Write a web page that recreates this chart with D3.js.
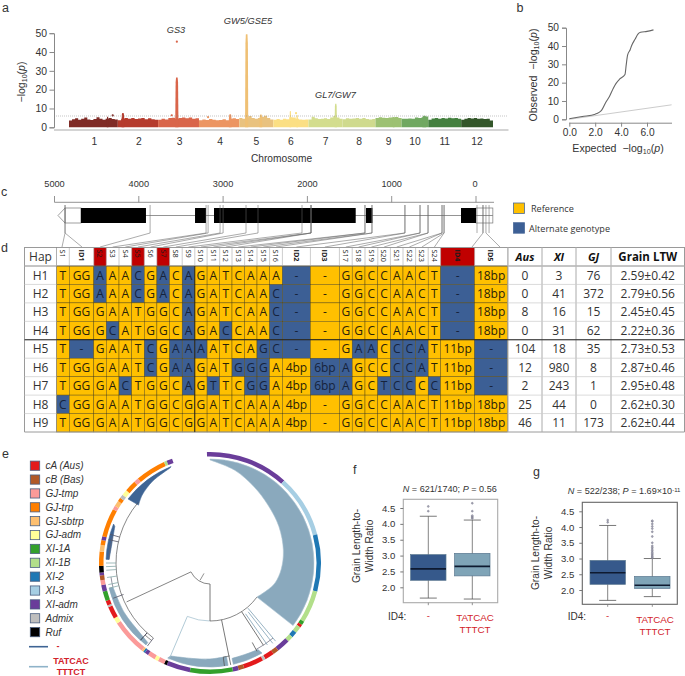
<!DOCTYPE html>
<html><head><meta charset="utf-8">
<script src="https://cdn.jsdelivr.net/npm/d3@7/dist/d3.min.js"></script>
<style>html,body{margin:0;padding:0;background:#fff}svg{display:block}text{font-family:"Liberation Sans",Arial,sans-serif;fill:#333}</style>
</head><body><svg id="c" width="685" height="676"></svg>
<script>
// ---------- DATA ----------
const chromosomes=['1','2','3','4','5','6','7','8','9','10','11','12'];
const chromLengthMb=[43,35.5,36,35.5,30,31,30,29,23,23.5,29,28];
const chromColors=['#7f2b26','#b53b2d','#d9654a','#ec9562','#e9c27f','#fbdf84','#d3dd8e','#cfda8e','#9cc172','#70a861','#44803f','#33562a'];
const chromEnvelope=[
 [3.6,4.3,4.8,4.0,4.5,5.2,4.2,3.9,4.4,5.4,4.6,4.0,4.5,5.0,4.4,4.2],
 [3.8,4.6,5.0,4.6,4.9,4.4,4.7,4.9,4.3,4.8,4.3,4.0],
 [4.0,4.5,4.2,4.9,5.1,4.5,5.0,5.2,4.8,5.2,4.6,4.8],
 [3.8,4.2,3.9,4.4,4.0,3.7,3.9,4.3,3.8,4.5,4.8,4.4],
 [5.0,4.6,5.3,6.0,5.0,4.5,5.0,5.6,6.2,5.0,4.2],
 [4.0,4.4,4.0,4.6,4.3,5.4,5.2,4.6,4.2,4.0,4.2],
 [4.2,5.6,4.8,4.4,4.6,4.8,4.4,5.2,6.0,5.2,4.6],
 [4.3,4.8,4.5,4.7,5.0,4.6,4.9,4.4,4.2,4.4],
 [5.0,5.3,5.1,4.9,5.2,5.3,5.5,5.0],
 [4.6,4.5,4.7,4.6,5.2,5.0,5.4,5.8],
 [4.0,4.7,4.9,4.5,5.0,4.7,5.1,4.8,5.0,4.6],
 [4.0,4.6,5.0,4.7,4.9,4.5,4.7,4.4,4.5,3.6]];
const peakChrom=[0,1,2,3,4,4,5,5,6,8,9];
const peakMb=[34,4.5,16.5,27.5,6.5,19,15,21,24,16,20];
const peakWidthMb=[1.4,2.4,2.8,2.4,2.8,2.4,1.4,1.4,2,1.4,3.4];
const peakHeight=[5.6,7.6,26.5,7,49.5,6.8,8.6,6.5,12.5,5.5,6.2];
const pointChrom=[0,2,2,3,5];
const pointMb=[38.5,12,16.5,8,20];
const pointValue=[6.3,6.4,45.5,5.4,7.5];
const manhattanYTicks=[0,10,20,30,40,50];
const threshold=6;
const geneLabels=['GS3','GW5/GSE5','GL7/GW7'];

const qqExpected=[0,1,2,2.3,2.5,2.8,3.1,3.4,3.6,3.9,4.3,4.4,4.5,4.7,4.8,5.1,5.3,5.5,6.0,6.5];
const qqObserved=[0.3,1.5,2.8,3.8,5,9,12.5,17,19.5,22,24.5,30,35,38,40,44,46.5,47.5,48,48.8];

const geneAxisTicks=[5000,4000,3000,2000,1000,0];
const exons=[[4686,3915],[3333,3203],[3108,1427],[1305,1228],[178,0]];
const utrs=[[4875,4686],[0,-200]];
const variantPos=[4875,4875,3866,3202,3178,3036,3000,2728,2586,2064,1957,1957,1957,1317,1317,1234,1234,843,843,664,664,569,569,403,403,379,379,-83,-118];
const extraVariantPos=[-12,-83,-155];

const hapNames=['H1','H2','H3','H4','H5','H6','H7','H8','H9'];
const colNames=['S1','ID1','S2','S3','S4','S5','S6','S7','S8','S9','S10','S11','S12','S13','S14','S15','S16','ID2','ID3','S17','S18','S19','S20','S21','S22','S23','S24','ID4','ID5'];
const redCols=['S2','S5','S7','ID4'];
const hapAlleles=[
 'T GG *A A A *C G *A C *A G A T C A A A *- - G G C C A A C T *- 18bp',
 'T GG *A A A *C G *A C *A G A T C A A *C *- - G G C C A A C T *- 18bp',
 'T GG G A A T G G C *A G A T C A A *C *- - G G C C A A C T *- 18bp',
 'T GG G *C A T G G C *A G A *C C A A *C *- - G G C C A A C T *- 18bp',
 'T *- G A A T *C G *A *A *A A T C A *G *C *- - G *A *A C *C *C *A T 11bp *-',
 'T GG G A A T *C G *A *A G A T *G *G *G A 4bp *6bp *A G C C *C *C *A T 11bp *-',
 'T GG G A *C T G G C *A G *T T C *G *G A 4bp *6bp *A G C *T *C *C C *C 11bp *-',
 '*C GG G A A T G G C G G A T C A A A 4bp - G G C C A A C T 11bp 18bp',
 'T GG G A A T G G C G G A T C A A A 4bp - G G C C A A C T 11bp 18bp'];
const ausCounts=[0,0,8,0,104,12,2,25,46];
const xiCounts=[3,41,16,31,18,980,243,44,11];
const gjCounts=[76,372,15,62,35,8,1,0,173];
const grainLTW=['2.59±0.42','2.79±0.56','2.45±0.45','2.22±0.36','2.73±0.53','2.87±0.46','2.95±0.48','2.62±0.30','2.62±0.44'];

const subpops=['cA (Aus)','cB (Bas)','GJ-tmp','GJ-trp','GJ-sbtrp','GJ-adm','XI-1A','XI-1B','XI-2','XI-3','XI-adm','Admix','Ruf'];
const subpopColors=['#e31a1c','#b15928','#fb9a99','#ff7f00','#fdbf6f','#ffff99','#33a02c','#b2df8a','#1f78b4','#a6cee3','#6a3d9a','#bebebe','#000000'];
const ringGroups=[10,9,8,7,6,0,7,8,7,10,1,0,11,0,1,10,6,10,12,2,5,2,10,8,4,2,5,0,11,0,6,10,2,1,10,12,3,4,3,10,3,2,4,3,11,5,3,2,3,7,10];
const ringEnds=[42,75,105,122,124,125.5,129,132,135,142,145,150,151.5,162,165,168,190.5,203,204.5,208,210,214,216,217,218,237,240,246.5,247.5,250,255,258.5,261,263.5,265,268.5,276,279.5,282,284,299,301,304,306,308,311,317,319.5,335.5,337,340];
const ringStart=-1.6;
// ribbons: [outer arc from a0 to a1 at radius r], then inner edge points [angle, radius]
const crescentBig={a0:0,a1:127,r:104,inner:[[126,58],[116,63],[107,68],[95,71.5],[80,74.5],[62,78],[45,82],[30,88],[15,96],[0,103]]};
const crescentDark={a0:308,a1:338,r:104,inner:[[337,103],[325,100],[315,96],[309,92]]};
const crescentDark2={a0:272,a1:292,r:104,inner:[[291,102],[281,100],[272,101]]};
const crescentBottom={a0:170,a1:204,r:104,inner:[[203,101],[190,97],[180,96],[170,95]]};
const crescentLeft={a0:218,a1:256,r:104,inner:[[256,100],[240,99],[225,99],[218,101]]};
const crescentLower={a0:150,a1:167,r:104,inner:[[167,98],[158,98],[151,99]]};
const treeArcs=[[21,180,245,'#555'],[58,126,180,'#555'],[58,180,203,'#9dbccc'],[94,217,310,'#555'],[98,140,152,'#667'],[95,168,172,'#555'],[101,272,285,'#667'],[100,256,262,'#667'],[97,217,222,'#555']];
const treeRadials=[[245,21,92,'#666'],[180,21,58,'#555'],[210,12,20,'#777'],[203,58,105,'#9dbccc'],[168.5,58,104,'#555'],[147,58,98,'#555'],[140,59,102,'#7d9fb4'],[142,62,102,'#7d9fb4'],[145,62,100,'#7d9fb4'],[172,95,104,'#555'],[152,90,100,'#555'],[283,94,104,'#556'],[286,94,104,'#556'],[270,94,104,'#8aa'],[268,94,104,'#8aa'],[266,94,104,'#8aa'],[262,94,104,'#8aa'],[258,94,104,'#8aa'],[256,94,104,'#8aa'],[250,92,103,'#556'],[217,94,104,'#556'],[222,94,104,'#223']];

const boxTicks=[2,2.5,3,3.5,4,4.5];
const statsF=[{q1:2.22,med:2.58,q3:3.03,lo:1.66,hi:4.24,out:[4.4,4.55]},{q1:2.36,med:2.66,q3:3.07,lo:1.63,hi:4.12,out:[4.17,4.2,4.23,4.26,4.4,4.65]}];
const statsG=[{q1:2.18,med:2.55,q3:2.94,lo:1.67,hi:4.05,out:[4.15,4.22]},{q1:2.05,med:2.15,q3:2.43,lo:1.79,hi:3.0,out:[3.02,3.05,3.08,3.12,3.16,3.2,3.25,3.3,3.35,3.4,3.5,3.7,3.85,3.95,4.02,4.1,4.18,4.2]}];

// ---------- DRAW ----------
const svg=d3.select('#c');
const DK='#333';
const T=(x,y,s,o={})=>svg.append('text').attr('x',x).attr('y',y).attr('text-anchor',o.a||'start').attr('font-size',o.fs||9.5).attr('font-style',o.it?'italic':null).attr('font-weight',o.b?'bold':null).style('fill',o.c||DK).style('font-family',o.ff||null).text(s);
[['a',2,12],['b',516.5,12],['c',1,196],['d',1,252],['e',2,458],['f',353,474],['g',533,476]].forEach(d=>T(d[1],d[2],d[0],{fs:12.5}));

function logLabel(g,x,y,prefix,rot,fs){
  const t=g.append('text').attr('text-anchor','middle').attr('font-size',fs).attr('transform',`translate(${x},${y})`+(rot?' rotate(-90)':'')).attr('xml:space','preserve');
  t.append('tspan').text(prefix+'−log');
  t.append('tspan').text('10').attr('font-size',fs*.68).attr('dy',2);
  t.append('tspan').text('(').attr('dy',-2);
  t.append('tspan').text('p').attr('font-style','italic');
  t.append('tspan').text(')');
}
// ---- a
const totalMb=d3.sum(chromLengthMb);
const cum=d3.cumsum([0].concat(chromLengthMb));
const xM=d3.scaleLinear().domain([0,totalMb]).range([69,493]);
const yM=d3.scaleLinear().domain([0,50]).range([127.3,33.2]);
const gA=svg.append('g');
gA.append('line').attr('x1',54).attr('x2',508.5).attr('y1',130).attr('y2',130).attr('stroke','#aaa').attr('stroke-width',1.2);
chromosomes.forEach((c,i)=>{
  const env=chromEnvelope[i];
  const sx=d3.scaleLinear().domain([0,env.length]).range([cum[i],cum[i+1]]);
  const pts=env.map((v,k)=>[k,v]).concat([[env.length,env[env.length-1]]]);
  gA.append('path').datum(pts).attr('fill',chromColors[i]).attr('d',d3.area().x(d=>xM(sx(d[0]))).y0(yM(0)).y1(d=>yM(d[1])).curve(d3.curveStepAfter));
  T(xM(cum[i]+chromLengthMb[i]/2)+[1,1,1,1,0,0,0,0,0,0,0,0][i],145,c,{a:'middle',fs:10.3});
});
peakMb.forEach((m,i)=>{
  const c=peakChrom[i],p=cum[c]+m,w=peakWidthMb[i],h=peakHeight[i];
  gA.append('path').datum([[p-w/2,4],[p-w/2.6,h*.9],[p-w/4,h],[p+w/4,h],[p+w/2.6,h*.9],[p+w/2,4]]).attr('fill',c===4?'#efc074':chromColors[c])
    .attr('d',d3.area().x(d=>xM(d[0])).y0(yM(0)).y1(d=>yM(d[1])));
});
pointMb.forEach((m,i)=>gA.append('circle').attr('cx',xM(cum[pointChrom[i]]+m)).attr('cy',yM(pointValue[i])).attr('r',1.1).attr('fill',chromColors[pointChrom[i]]));
gA.append('line').attr('x1',54).attr('x2',508).attr('y1',yM(threshold)).attr('y2',yM(threshold)).attr('stroke','#888').attr('stroke-width',.5).attr('stroke-dasharray','1 1');
const axA=gA.append('g').attr('transform','translate(54,0)').call(d3.axisLeft(yM).tickValues(manhattanYTicks).tickSize(4.5).tickPadding(2.5));
axA.selectAll('line,path').attr('stroke','#888');
axA.selectAll('text').attr('font-size',10.4).style('fill',DK);
logLabel(gA,25,82,'',true,10.5);
T(281.5,162,'Chromosome',{a:'middle',fs:10.2});
T(176,33,geneLabels[0],{a:'middle',it:1,fs:9.2});
T(248,24,geneLabels[1],{a:'middle',it:1,fs:9.3});
T(315,98,geneLabels[2],{it:1,fs:9.2});

// ---- b
const xQ=d3.scaleLinear().domain([0,6]).range([569.3,647]);
const yQ=d3.scaleLinear().domain([0,50]).range([119.3,27.7]);
const gB=svg.append('g');
gB.append('line').attr('x1',xQ(0)).attr('y1',yQ(0)).attr('x2',xQ(7.9)).attr('y2',yQ(7.9)).attr('stroke','#ccc').attr('stroke-width',1);
gB.append('path').datum(d3.zip(qqExpected,qqObserved)).attr('fill','none').attr('stroke','#666').attr('stroke-width',1.1).attr('d',d3.line().x(d=>xQ(d[0])).y(d=>yQ(d[1])).curve(d3.curveMonotoneX));
const axB1=gB.append('g').attr('transform','translate(566,0)').call(d3.axisLeft(yQ).tickValues([0,10,20,30,40,50]).tickSize(4).tickPadding(3));
const axB2=gB.append('g').attr('transform','translate(0,122.7)').call(d3.axisBottom(xQ).tickValues([0,2,4,6]).tickSize(4).tickPadding(2.5));
axB2.select('path').attr('d','M569.3,0.5H672');
[axB1,axB2].forEach(a=>{a.selectAll('line,path').attr('stroke','#888');a.selectAll('text').attr('font-size',10.2).style('fill',DK);});
logLabel(gB,536.5,75,'Observed \u00a0',true,10.6);
logLabel(gB,618,152,'Expected \u00a0',false,10.6);

// ---- c
const xG=d3.scaleLinear().domain([5000,0]).range([54.5,476]);
const gC=svg.append('g');
gC.append('line').attr('x1',54.5).attr('x2',494).attr('y1',202.3).attr('y2',202.3).attr('stroke','#777').attr('stroke-width',.8);
geneAxisTicks.forEach(t=>{
  gC.append('line').attr('x1',xG(t)).attr('x2',xG(t)).attr('y1',196).attr('y2',202.3).attr('stroke','#777').attr('stroke-width',.8);
  T(xG(t)-(t===0?1:0),186.5,t,{a:'middle',fs:9.2});
});
const gy0=208,gy1=223,gym=215.5;
gC.append('line').attr('x1',xG(4686)).attr('x2',xG(-200)).attr('y1',gym).attr('y2',gym).attr('stroke','#666').attr('stroke-width',.7);
gC.append('path').attr('d',`M${xG(4875)},${gy0}L58,${gym}L${xG(4875)},${gy1}`).attr('fill','#fff').attr('stroke','#777').attr('stroke-width',.7);
utrs.forEach(u=>gC.append('rect').attr('x',xG(u[0])).attr('y',gy0).attr('width',xG(u[1])-xG(u[0])).attr('height',gy1-gy0).attr('fill',u[1]<0?'none':'#fff').attr('stroke','#777').attr('stroke-width',.7));
exons.forEach(e=>gC.append('rect').attr('x',xG(e[0])).attr('y',gy0).attr('width',xG(e[1])-xG(e[0])).attr('height',gy1-gy0).attr('fill','#000'));

// ---- d table
const colWidths=[12.8,24.5,12.5,12.7,12.7,12.6,12.6,12.7,12.6,12.6,12.3,12.6,12.3,12.6,12.4,12.6,12.8,28,29,12.8,12.8,12.8,12.6,12.6,12.6,12.6,12.4,34,33];
const colX=d3.cumsum([56.5].concat(colWidths));
const rowY=d3.scaleBand().domain(hapNames).range([266,432]);
const gD=svg.append('g');
const TF='"Open Sans",sans-serif';
const YEL='#ffc000',BLU='#3c5f95',RED='#c00000';
colNames.forEach((c,i)=>{
  const vx=xG(variantPos[i]),hx=(colX[i]+colX[i+1])/2;
  let tx=hx; if(c==='ID4')tx=472; if(c==='ID5')tx=500; if(c==='S1')tx=62; if(c==='ID1')tx=82;
  gD.append('path').attr('d',`M${vx},205V233L${tx},247`).attr('fill','none').attr('stroke','#666').attr('stroke-width',.55);
});
extraVariantPos.forEach(p=>gD.append('line').attr('x1',xG(p)).attr('x2',xG(p)).attr('y1',205).attr('y2',233).attr('stroke','#666').attr('stroke-width',.55));
gD.append('rect').attr('x',24.5).attr('y',247).attr('width',660).attr('height',19).attr('fill','#fff');
colNames.forEach((c,i)=>{
  const cx=(colX[i]+colX[i+1])/2;
  if(redCols.includes(c))gD.append('rect').attr('x',colX[i]).attr('y',248).attr('width',colWidths[i]).attr('height',18).attr('fill',RED);
  gD.append('text').attr('transform',`translate(${cx-2.7},${249.5}) rotate(90)`).attr('font-size',7.3).attr('font-weight',c.startsWith('ID')?'bold':null).style('font-family',TF).style('fill','#1a1a1a').text(c);
});
hapNames.forEach((h,r)=>{
  const toks=hapAlleles[r].split(' ');
  const y=rowY(h),bw=rowY.bandwidth();
  toks.forEach((tk,i)=>{
    const alt=tk[0]==='*',s=alt?tk.slice(1):tk;
    gD.append('rect').attr('x',colX[i]).attr('y',y).attr('width',colWidths[i]).attr('height',bw).attr('fill',alt?BLU:YEL).attr('stroke','#5a4a10').attr('stroke-width',.45);
    gD.append('text').attr('x',(colX[i]+colX[i+1])/2).attr('y',y+bw/2+4.3).attr('text-anchor','middle').attr('font-size',12).style('font-family',TF).style('fill',alt?'#16233c':'#2a2208').text(s);
  });
  gD.append('text').attr('x',40.5).attr('y',y+bw/2+4.3).attr('text-anchor','middle').attr('font-size',12).style('font-family',TF).text(h);
});
const statX=[508,542,576,611,684.5];
const statHead=['Aus','XI','GJ','Grain LTW'];
statHead.forEach((s,i)=>gD.append('text').attr('x',(statX[i]+statX[i+1])/2).attr('y',261).attr('text-anchor','middle').attr('font-size',i==3?11.5:11).attr('font-weight','bold').attr('font-style',i<3?'italic':null).style('font-family',TF).style('fill','#111').text(s));
[ausCounts,xiCounts,gjCounts,grainLTW].forEach((arr,i)=>arr.forEach((v,r)=>gD.append('text').attr('x',(statX[i]+statX[i+1])/2).attr('y',rowY(hapNames[r])+rowY.bandwidth()/2+4.3).attr('text-anchor','middle').attr('font-size',12).style('font-family',TF).text(v)));
gD.append('text').attr('x',40.5).attr('y',261).attr('text-anchor','middle').attr('font-size',12).style('font-family',TF).text('Hap');
const gr='#9a9a9a';
const L=(x1,y1,x2,y2,c,w)=>gD.append('line').attr('x1',x1).attr('y1',y1).attr('x2',x2).attr('y2',y2).attr('stroke',c).attr('stroke-width',w);
L(24.5,247.5,684.5,247.5,gr,1);L(24.5,266,684.5,266,'#666',.8);L(24.5,432,684.5,432,gr,1);
L(24.5,247,24.5,432,gr,1);L(684.5,247,684.5,432,gr,1);L(56.5,247,56.5,432,'#888',.6);
colX.forEach(x=>L(x,248,x,266,'#aaa',.6));
statX.slice(0,4).forEach(x=>L(x,247,x,432,'#aaa',1));
hapNames.forEach(h=>{L(24.5,rowY(h),56.5,rowY(h),'#ccc',.7);L(508,rowY(h),684.5,rowY(h),'#ccc',.7);});
L(24.5,rowY('H5'),684.5,rowY('H5'),'#222',1);
L(colX[10],266,colX[10],432,'#222',.9);
[['Reference',YEL,203,531,211.8],['Alternate genotype',BLU,222.7,529,232]].forEach(d=>{
  svg.append('rect').attr('x',513.5).attr('y',d[2]).attr('width',11).attr('height',10.5).attr('fill',d[1]).attr('stroke','#4a6a9a').attr('stroke-width',.8);
  T(d[3],d[4],d[0],{fs:9.1,ff:TF});
});

// ---- e
const gE=svg.append('g').attr('transform','translate(210,563)');
const rad=d3.scaleLinear().domain([0,360]).range([0,2*Math.PI]);
const ringArc=d3.arc().innerRadius(106.5).outerRadius(111);
ringEnds.forEach((e,i)=>{
  const s=i?ringEnds[i-1]:ringStart;
  gE.append('path').attr('d',ringArc({startAngle:rad(s),endAngle:rad(e)})).attr('fill',subpopColors[ringGroups[i]]);
});
const lineR=c=>d3.lineRadial().angle(d=>rad(d[0])).radius(d=>d[1]).curve(c);
const rib=(o,fill,stroke)=>{
  const arcPath=d3.arc().innerRadius(o.r).outerRadius(o.r)({startAngle:rad(o.a0),endAngle:rad(o.a1)}).split('A');
  const outer=arcPath.slice(0,2).join('A'); // single sweep of the circle at radius r
  const inner=lineR(d3.curveCatmullRom)(o.inner).slice(1);
  gE.append('path').attr('d',outer+'L'+inner+'Z').attr('fill',fill).attr('stroke',stroke||fill).attr('stroke-width',.6);
};
const lb='#8aa9bd';
rib(crescentBig,lb,'#a9c3d2');
rib(crescentDark,'#3e6494');
rib(crescentDark2,'#3e6494');
rib(crescentBottom,lb);
rib(crescentLeft,lb);
rib(crescentLower,lb);
treeArcs.forEach(a=>{
  const p=d3.arc().innerRadius(a[0]).outerRadius(a[0])({startAngle:rad(a[1]),endAngle:rad(a[2])}).split('A').slice(0,2).join('A');
  gE.append('path').attr('d',p).attr('fill','none').attr('stroke',a[3]).attr('stroke-width',.7);
});
treeRadials.forEach(a=>gE.append('path').attr('d',lineR(d3.curveLinear)([[a[0],a[1]],[a[0],a[2]]])).attr('fill','none').attr('stroke',a[3]).attr('stroke-width',.8));
subpops.forEach((s,i)=>{
  const y=465.7+i*13.87;
  svg.append('rect').attr('x',30.3).attr('y',y-4.6).attr('width',9.4).attr('height',9.2).attr('fill',subpopColors[i]).attr('stroke','#4a5f80').attr('stroke-width',.8);
  T(45.5,y+3.4,s,{it:1,fs:10});
});
svg.append('line').attr('x1',29).attr('x2',48).attr('y1',646.7).attr('y2',646.7).attr('stroke','#3e6494').attr('stroke-width',1.6);
svg.append('line').attr('x1',29).attr('x2',48).attr('y1',666.7).attr('y2',666.7).attr('stroke','#8fb3c9').attr('stroke-width',1.6);
const RT='#d2222a';
T(58,648.5,'-',{a:'middle',fs:9,b:1,c:RT});
T(71,664,'TATCAC',{a:'middle',fs:9,b:1,c:RT});
T(71,675,'TTTCT',{a:'middle',fs:9,b:1,c:RT});

// ---- f, g
function box(opt){
  const g=svg.append('g');
  const y=d3.scaleLinear().domain([2,4.5]).range(opt.yr);
  const x=d3.scaleOrdinal().domain([0,1]).range(opt.cx);
  g.append('rect').attr('x',opt.fx[0]).attr('y',opt.fy[0]).attr('width',opt.fx[1]-opt.fx[0]).attr('height',opt.fy[1]-opt.fy[0]).attr('fill','#fff').attr('stroke',opt.fc).attr('stroke-width',1.1);
  const ax=g.append('g').attr('transform',`translate(${opt.fx[0]},0)`).call(d3.axisLeft(y).tickValues(boxTicks).tickFormat(d3.format('.1f')).tickSize(3).tickPadding(5));
  ax.select('path').remove();ax.selectAll('line').attr('stroke','#777');ax.selectAll('text').attr('font-size',9.6).style('fill',DK);
  opt.stats.forEach((s,i)=>{
    const c=x(i),col=i?'#7fa4b7':'#36598b',hw=17.7;
    g.append('line').attr('x1',c).attr('x2',c).attr('y1',y(s.lo)).attr('y2',y(s.hi)).attr('stroke','#777').attr('stroke-width',.9);
    [s.lo,s.hi].forEach(v=>g.append('line').attr('x1',c-8.5).attr('x2',c+8.5).attr('y1',y(v)).attr('y2',y(v)).attr('stroke','#555').attr('stroke-width',.8));
    g.append('rect').attr('x',c-hw).attr('y',y(s.q3)).attr('width',hw*2).attr('height',y(s.q1)-y(s.q3)).attr('fill',col).attr('stroke','#5b7890').attr('stroke-width',.7);
    g.append('line').attr('x1',c-hw).attr('x2',c+hw).attr('y1',y(s.med)).attr('y2',y(s.med)).attr('stroke','#0e1a30').attr('stroke-width',1.6);
    s.out.forEach(v=>g.append('circle').attr('cx',c).attr('cy',y(v)).attr('r',.95).attr('fill','#aab').attr('stroke','#667').attr('stroke-width',.4));
    g.append('line').attr('x1',c).attr('x2',c).attr('y1',opt.fy[1]).attr('y2',opt.fy[1]+2.5).attr('stroke','#777').attr('stroke-width',.8);
  });
  const t=g.append('text').attr('x',opt.tx).attr('y',opt.ty).attr('font-size',9.1);
  opt.title.forEach(p=>{const s=t.append('tspan').text(p[0]);if(p[1]==='i')s.attr('font-style','italic');if(p[1]==='s')s.attr('font-size',6).attr('dy',-2.5);});
  const yl=g.append('text').attr('transform',`translate(${opt.ylx},${opt.yly}) rotate(-90)`).attr('text-anchor','middle').attr('font-size',10.2);
  yl.append('tspan').attr('x',0).text('Grain Length-to-');
  yl.append('tspan').attr('x',0).attr('dy',13).text('Width Ratio');
  T(opt.idx,opt.idy,'ID4:',{fs:10});
  T(opt.cx[0],opt.idy-1,'-',{a:'middle',fs:9.5,c:RT});
  T(opt.tc,opt.t1,'TATCAC',{a:'middle',fs:9.8,c:RT});
  T(opt.tc,opt.t1+12,'TTTCT',{a:'middle',fs:9.8,c:RT});
}
box({stats:statsF,yr:[587.3,508],cx:[428.3,472.3],fx:[403.3,497.7],fy:[499.3,602.7],fc:'#aaa',tx:402.7,ty:492,title:[['N','i'],[' = 621/1740; '],['P','i'],[' = 0.56']],ylx:360,yly:546,idx:388,idy:619.5,tc:475,t1:621});
box({stats:statsG,yr:[590,511.3],cx:[607.7,652.3],fx:[582.3,677.3],fy:[502.3,604.3],fc:'#666',tx:567.7,ty:494,title:[['N','i'],[' = 522/238; '],['P','i'],[' = 1.69×10'],['-11','s']],ylx:539,yly:553,idx:567.7,idy:619.5,tc:655,t1:622.5});
</script></body></html>
